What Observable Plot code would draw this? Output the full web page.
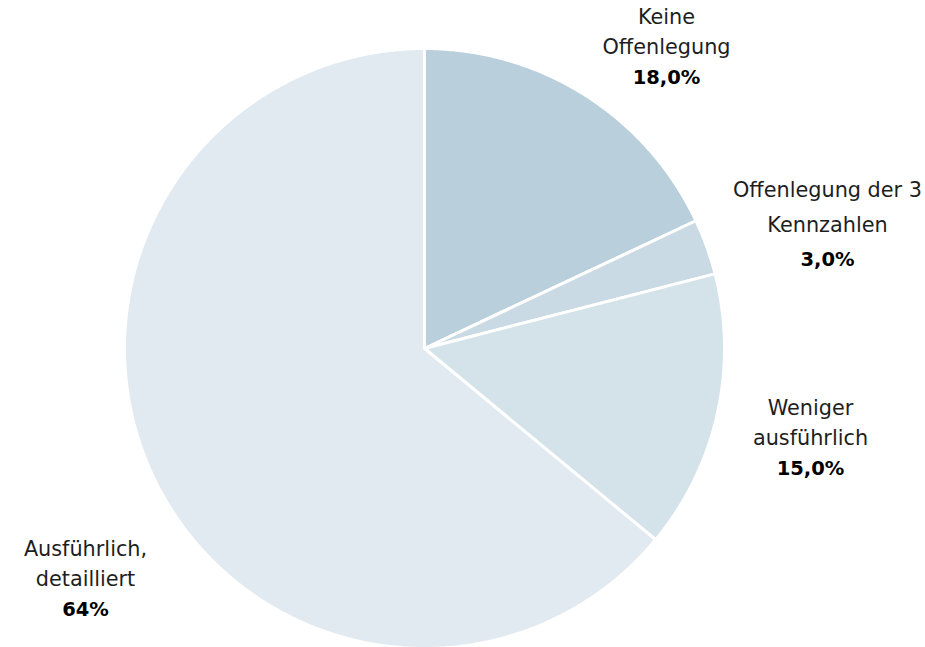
<!DOCTYPE html>
<html><head><meta charset="utf-8">
<script src="https://cdn.jsdelivr.net/npm/d3@7"></script>
<script src="https://cdn.jsdelivr.net/npm/@observablehq/plot@0.6"></script>
<style>
html,body{margin:0;padding:0;background:#fff;}
svg{display:block;}
</style>
</head><body><div id="chart"></div>
<script>
// Data
const categories = ["Keine Offenlegung", "Offenlegung der 3 Kennzahlen", "Weniger ausführlich", "Ausführlich, detailliert"];
const shares = [18, 3, 15, 64];
const valueLabels = ["18,0%", "3,0%", "15,0%", "64%"];
const nameLines = [["Keine", "Offenlegung"], ["Offenlegung der 3", "Kennzahlen"], ["Weniger", "ausführlich"], ["Ausführlich,", "detailliert"]];
const sliceColors = ["#b9cfdc", "#c9dae4", "#d4e2ea", "#e1eaf0"];

// Layout (label anchor centres, in pixels; line spacing)
const labelCenters = [[666, 17], [827, 190], [810, 408], [85, 549]];
const lineGaps = [30, 34.5, 30, 30];

const W = 925, H = 647, CX = 424, CY = 348, R = 300;

// build slice polygons from the shares (arc sampled along the circle)
const total = d3.sum(shares);
const pts = [];
let cum = 0;
shares.forEach((s, i) => {
  const a0 = cum / total * 2 * Math.PI;
  cum += s;
  const a1 = cum / total * 2 * Math.PI;
  const n = Math.max(2, Math.ceil((a1 - a0) / (Math.PI / 360)));
  pts.push({cat: categories[i], x: 0, y: 0});
  for (let k = 0; k <= n; k++) {
    const a = a0 + (a1 - a0) * k / n;
    pts.push({cat: categories[i], x: Math.sin(a), y: Math.cos(a)});
  }
});

const toX = px => (px - CX) / R;
const toY = py => (CY - py) / R;
const texts = [];
categories.forEach((c, i) => {
  const [px, py] = labelCenters[i];
  nameLines[i].forEach((t, j) => texts.push({t, x: toX(px), y: toY(py + j * lineGaps[i]), bold: false}));
  texts.push({t: valueLabels[i], x: toX(px), y: toY(py + 2 * lineGaps[i]), bold: true});
});

const chart = Plot.plot({
  width: W, height: H,
  x: {domain: [-1, 1], range: [CX - R, CX + R], axis: null},
  y: {domain: [-1, 1], range: [CY + R, CY - R], axis: null},
  color: {domain: categories, range: sliceColors},
  style: {fontFamily: "'DejaVu Sans', sans-serif", background: "#fff", overflow: "visible"},
  marks: [
    Plot.line(pts, {x: "x", y: "y", z: "cat", fill: "cat", stroke: "#fff", strokeWidth: 3, curve: "linear-closed", strokeLinejoin: "round"}),
    Plot.text(texts.filter(d => !d.bold), {x: "x", y: "y", text: "t", fontSize: 20.8, fill: "#1e1e1e", textAnchor: "middle"}),
    Plot.text(texts.filter(d => d.bold), {x: "x", y: "y", text: "t", fontSize: 19.5, fontWeight: "bold", fill: "#000", textAnchor: "middle"})
  ]
});
document.getElementById("chart").appendChild(chart);
</script></body></html>
